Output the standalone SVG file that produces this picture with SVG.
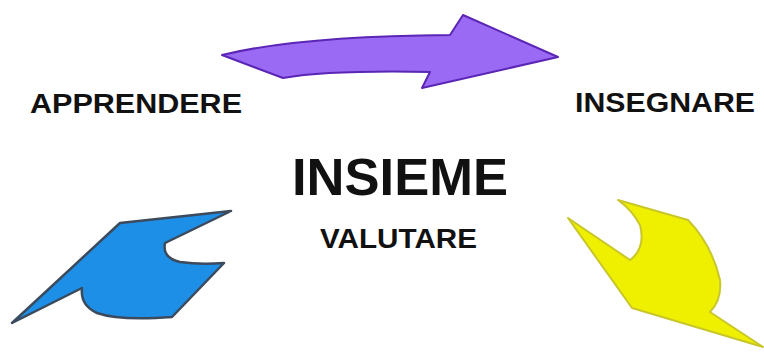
<svg xmlns="http://www.w3.org/2000/svg" width="764" height="352" viewBox="0 0 764 352">
<style>
.lbl{font-family:"Liberation Sans",Arial,sans-serif;font-weight:bold;fill:#111}
.purple{fill:#9a6af4;stroke:#5b25b5;stroke-width:2;stroke-linejoin:round}
.blue{fill:#1e8fe6;stroke:#3b4a5c;stroke-width:2.5;stroke-linejoin:round}
.yellow{fill:#eef000;stroke:#c9c62a;stroke-width:2;stroke-linejoin:round}
</style>
<rect width="764" height="352" fill="#ffffff"/>
<g id="arrow-top">
<path class="purple" d="M222,55 Q300,36 450,35 L463,15 L558,57 L422,88 L430,72 Q330,70 283,78 Z"/>
</g>
<g id="arrow-left">
<path class="blue" d="M12,323 L120,223 L231,211 L165,243 Q162,258 180,262 Q200,265 224,263 L172,317 Q120,321 97,313 Q80,305 82,288 Z"/>
</g>
<g id="arrow-right">
<path class="yellow" d="M568,218 L630,260 Q646,248 640,225 Q632,210 618,200 L688,220 Q712,245 720,280 Q722,300 710,312 L763,347 L632,308 Z"/>
</g>
<g id="apprendere"><text class="lbl" x="30" y="113" font-size="27" textLength="212" lengthAdjust="spacingAndGlyphs">APPRENDERE</text></g>
<g id="insegnare"><text class="lbl" x="575" y="112" font-size="27" textLength="180" lengthAdjust="spacingAndGlyphs">INSEGNARE</text></g>
<g id="insieme"><text class="lbl" x="292" y="195" font-size="52" textLength="216" lengthAdjust="spacingAndGlyphs">INSIEME</text></g>
<g id="valutare"><text class="lbl" x="320" y="248" font-size="27" textLength="157" lengthAdjust="spacingAndGlyphs">VALUTARE</text></g>
</svg>
